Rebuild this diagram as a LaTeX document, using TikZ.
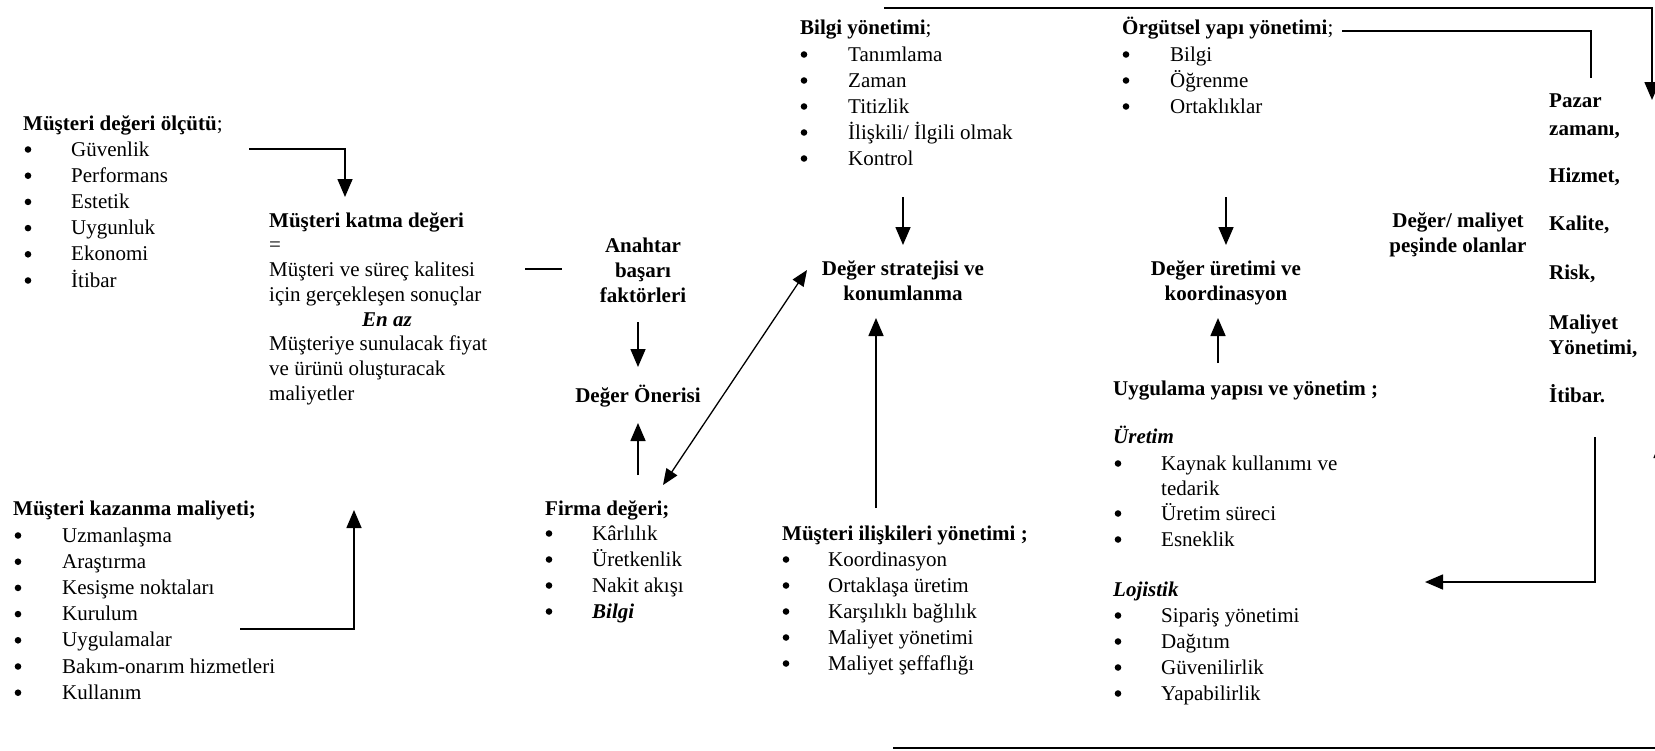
\documentclass[tikz,border=0pt]{standalone}
\usepackage{fontspec}
\setmainfont{Liberation Serif}
\usetikzlibrary{arrows.meta}
\begin{document}
\begin{tikzpicture}[x=1pt,y=-1pt,
  txt/.style={inner sep=0pt, anchor=base west, font=\fontsize{21}{25}\selectfont},
  hd/.style={txt, font=\fontsize{21}{25}\selectfont\bfseries},
  hdi/.style={txt, font=\fontsize{21}{25}\selectfont\bfseries\itshape},
  ctr/.style={inner sep=0pt, anchor=base, font=\fontsize{21}{25}\selectfont\bfseries},
  dot/.style={circle, fill, inner sep=0pt, minimum size=6.6pt},
  link/.style={line width=1.6pt, -{Triangle[length=18pt,width=15pt]}},
  twoway/.style={line width=1.3pt, {Triangle[length=16pt,width=13pt]}-{Triangle[length=16pt,width=13pt]}},
  plain/.style={line width=1.6pt},
  thin/.style={line width=1.2pt}
]
\useasboundingbox (0,0) rectangle (1655,750);

% ---------- customer value criteria ----------
\node[hd] (mdo) at (23,130) {Müşteri değeri ölçütü\mdseries;};
\foreach \t [count=\i] in {Güvenlik, Performans, Estetik, Uygunluk, Ekonomi, İtibar}{
  \node[dot] (mdo-b\i) at (28,{149.5+26.2*(\i-1)}) {};
  \node[txt] (mdo-\i) at (71,{156+26.2*(\i-1)}) {\t};
}

% ---------- customer added value ----------
\node[hd] (mkd) at (269,227) {Müşteri katma değeri};
\node[txt] (mkd-eq) at (269,251) {=};
\node[txt] (mkd-1) at (269,276) {Müşteri ve süreç kalitesi};
\node[txt] (mkd-2) at (269,301) {için gerçekleşen sonuçlar};
\node[ctr, font=\fontsize{21}{25}\selectfont\bfseries\itshape] (mkd-3) at (387,326) {En az};
\node[txt] (mkd-4) at (269,350) {Müşteriye sunulacak fiyat};
\node[txt] (mkd-5) at (269,375) {ve ürünü oluşturacak};
\node[txt] (mkd-6) at (269,400) {maliyetler};

% ---------- customer acquisition cost ----------
\node[hd] (mkm) at (13,515) {Müşteri kazanma maliyeti;};
\foreach \t [count=\i] in {Uzmanlaşma, Araştırma, Kesişme noktaları, Kurulum, Uygulamalar, Bakım-onarım hizmetleri, Kullanım}{
  \node[dot] (mkm-b\i) at (18,{535.5+26.2*(\i-1)}) {};
  \node[txt] (mkm-\i) at (62,{542+26.2*(\i-1)}) {\t};
}

% ---------- key success factors / value proposition ----------
\node[ctr] (abf1) at (643,252) {Anahtar};
\node[ctr] (abf2) at (643,277) {başarı};
\node[ctr] (abf3) at (643,302) {faktörleri};
\node[ctr] (don) at (638,402) {Değer Önerisi};

% ---------- firm value ----------
\node[hd] (fd) at (545,515) {Firma değeri;};
\foreach \t [count=\i] in {Kârlılık, Üretkenlik, Nakit akışı, \textbf{\textit{Bilgi}}}{
  \node[dot] (fd-b\i) at (549,{533.5+26*(\i-1)}) {};
  \node[txt] (fd-\i) at (592,{540+26*(\i-1)}) {\t};
}

% ---------- knowledge management ----------
\node[hd] (by) at (800,34) {Bilgi yönetimi\mdseries;};
\foreach \t [count=\i] in {Tanımlama, Zaman, Titizlik, İlişkili/ İlgili olmak, Kontrol}{
  \node[dot] (by-b\i) at (804,{54.5+26*(\i-1)}) {};
  \node[txt] (by-\i) at (848,{61+26*(\i-1)}) {\t};
}

% ---------- organisational structure ----------
\node[hd] (oy) at (1122,34) {Örgütsel yapı yönetimi\mdseries;};
\foreach \t [count=\i] in {Bilgi, Öğrenme, Ortaklıklar}{
  \node[dot] (oy-b\i) at (1126,{54.5+26*(\i-1)}) {};
  \node[txt] (oy-\i) at (1170,{61+26*(\i-1)}) {\t};
}

% ---------- value strategy / value creation ----------
\node[ctr] (dsk1) at (903,275) {Değer stratejisi ve};
\node[ctr] (dsk2) at (903,300) {konumlanma};
\node[ctr] (duk1) at (1226,275) {Değer üretimi ve};
\node[ctr] (duk2) at (1226,300) {koordinasyon};

% ---------- customer relationship management ----------
\node[hd] (miy) at (782,540) {Müşteri ilişkileri yönetimi ;};
\foreach \t [count=\i] in {Koordinasyon, Ortaklaşa üretim, Karşılıklı bağlılık, Maliyet yönetimi, Maliyet şeffaflığı}{
  \node[dot] (miy-b\i) at (786,{559.5+26*(\i-1)}) {};
  \node[txt] (miy-\i) at (828,{566+26*(\i-1)}) {\t};
}

% ---------- implementation structure ----------
\node[hd] (uyy) at (1113,395) {Uygulama yapısı ve yönetim ;};
\node[hdi] (ur) at (1113,443) {Üretim};
\node[dot] (ur-b1) at (1118,463.5) {};
\node[txt] (ur-1) at (1161,470) {Kaynak kullanımı ve};
\node[txt] (ur-1b) at (1161,495) {tedarik};
\node[dot] (ur-b2) at (1118,513.5) {};
\node[txt] (ur-2) at (1161,520) {Üretim süreci};
\node[dot] (ur-b3) at (1118,539.5) {};
\node[txt] (ur-3) at (1161,546) {Esneklik};
\node[hdi] (lj) at (1113,596) {Lojistik};
\foreach \t [count=\i] in {Sipariş yönetimi, Dağıtım, Güvenilirlik, Yapabilirlik}{
  \node[dot] (lj-b\i) at (1118,{615.5+26*(\i-1)}) {};
  \node[txt] (lj-\i) at (1161,{622+26*(\i-1)}) {\t};
}

% ---------- value / cost seekers ----------
\node[ctr] (dmp1) at (1458,227) {Değer/ maliyet};
\node[ctr] (dmp2) at (1458,252) {peşinde olanlar};
\node[hd] (r1) at (1549,107) {Pazar};
\node[hd] (r2) at (1549,135) {zamanı,};
\node[hd] (r3) at (1549,182) {Hizmet,};
\node[hd] (r4) at (1549,230) {Kalite,};
\node[hd] (r5) at (1549,279) {Risk,};
\node[hd] (r6) at (1549,329) {Maliyet};
\node[hd] (r7) at (1549,354) {Yönetimi,};
\node[hd] (r8) at (1549,402) {İtibar.};

% ---------- connector end points ----------
\coordinate (c1s) at (249,149);  \coordinate (c1e) at (345,197);
\coordinate (c2s) at (240,629);  \coordinate (c2e) at (354,510);
\coordinate (c3s) at (525,269);  \coordinate (c3e) at (562,269);
\coordinate (c4s) at (638,322);  \coordinate (c4e) at (638,367);
\coordinate (c5s) at (638,475);  \coordinate (c5e) at (638,423);
\coordinate (c6s) at (663,485);  \coordinate (c6e) at (807,270);
\coordinate (c7s) at (903,197);  \coordinate (c7e) at (903,245);
\coordinate (c8s) at (876,508);  \coordinate (c8e) at (876,318);
\coordinate (c9s) at (1226,197); \coordinate (c9e) at (1226,245);
\coordinate (c10s) at (1218,363); \coordinate (c10e) at (1218,318);
\coordinate (c11s) at (884,8);   \coordinate (c11e) at (1652,100);
\coordinate (c12s) at (1342,31); \coordinate (c12e) at (1591,78);
\coordinate (c13s) at (1595,437); \coordinate (c13e) at (1425,582);
\coordinate (c14s) at (893,748); \coordinate (c14e) at (1655,748);
\coordinate (c15s) at (1661,472); \coordinate (c15e) at (1661,440);

% ---------- connectors ----------
\draw[link] (c1s) -| (c1e);
\draw[link] (c2s) -| (c2e);
\draw[plain] (c3s) -- (c3e);
\draw[link] (c4s) -- (c4e);
\draw[link] (c5s) -- (c5e);
\draw[twoway] (c6s) -- (c6e);
\draw[link] (c7s) -- (c7e);
\draw[link] (c8s) -- (c8e);
\draw[link] (c9s) -- (c9e);
\draw[link] (c10s) -- (c10e);
\draw[link] (c11s) -| (c11e);
\draw[thin] (c12s) -| (c12e);
\draw[link] (c13s) |- (c13e);
\draw[plain] (c14s) -- (c14e);
% arrow at the right margin, only its tip edge falls inside the page
\draw[link] (c15s) -- (c15e);
\end{tikzpicture}
\end{document}
